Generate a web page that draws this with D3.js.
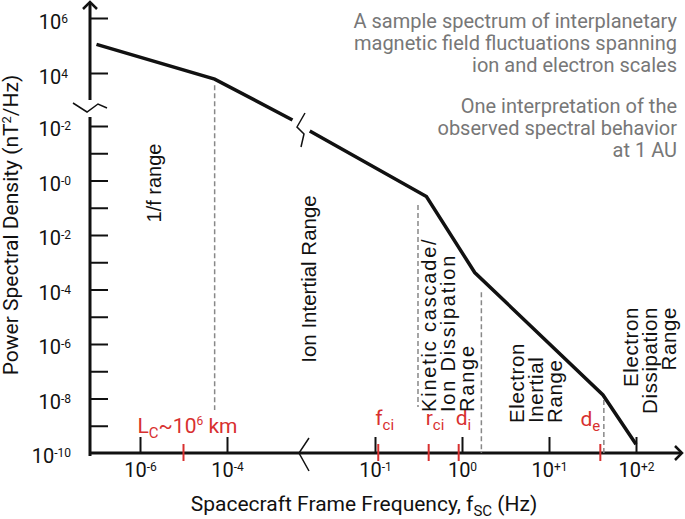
<!DOCTYPE html>
<html>
<head>
<meta charset="utf-8">
<script src="https://cdn.jsdelivr.net/npm/d3@7"></script>
<style>
  body { margin: 0; background: #fff; }
  text { font-family: Roboto, sans-serif; fill: #111; }
  .region { font-family: "Liberation Sans", Arial, sans-serif; font-size: 20px; }
  .red { fill: #d8302f; }
</style>
</head>
<body>
<div id="chart"></div>
<script>
// spectrum above the break (1/f range into ion inertial range)
const lowFreq = [1e-7, 5.2e-5, 3.2e-3];
const lowPsd = [1.1e5, 6.0e3, 195];
// spectrum below the break
const highFreq = [0.0178, 0.39, 1.4, 41.7, 100];
const highPsd = [66, 0.257, 4.2e-4, 1.35e-8, 2.1e-10];

// y ticks (labels copied as printed)
const yTopTicks = [1e6, 1e4];
const yTopLabels = ["6", "4"];
const yBotTicks = [1e2, 1e1, 1e0, 1e-1, 1e-2, 1e-3, 1e-4, 1e-5, 1e-6, 1e-7, 1e-8, 1e-9];
const yBotLabelTicks = [1e2, 1e0, 1e-2, 1e-4, 1e-6, 1e-8, 1e-10];
const yBotLabels = ["-2", "-0", "-2", "-4", "-6", "-8", "-10"];

// x ticks
const xLeftTicks = [1e-6, 1e-4];
const xLeftLabels = ["-6", "-4"];
const xRightTicks = [1e-1, 1e0, 1e1, 1e2];
const xRightLabels = ["-1", "0", "+1", "+2"];

// characteristic scales (red)
const charNames = ["f", "r", "d", "d"];
const charSubs = ["ci", "ci", "i", "e"];
const charFreqs = [0.109, 0.414, 0.916, 38.9];
const lcFreq = 1e-5;

// range boundaries (dashed)
const boundFreqs = [0.312, 1.67, 42.7];
const boundTop = [0.126, 7.9e-5, 8.9e-9];

const notes = [
  "A sample spectrum of interplanetary",
  "magnetic field fluctuations spanning",
  "ion and electron scales",
  "One interpretation of the",
  "observed spectral behavior",
  "at 1 AU"
];

const width = 685;
const height = 519;
const axisX = 90;
const axisY = 453;

const svg = d3.select("#chart").append("svg")
  .attr("width", width)
  .attr("height", height);

const xLeft = d3.scaleLog().domain([1e-6, 1e-4]).range([140, 227]);
const xRight = d3.scaleLog().domain([1e-1, 1e2]).range([375, 636]);
const yTop = d3.scaleLog().domain([1e4, 1e6]).range([73, 18]);
const yBot = d3.scaleLog().domain([1e-10, 1e2]).range([axisY, 126]);

function sup(sel, base, exp) {
  sel.text(base);
  sel.append("tspan").attr("dy", "-0.5em").attr("font-size", "12px").text(exp);
}

// ---- axes lines, breaks and arrows
const ink = "#111";
svg.append("line").attr("x1", axisX).attr("x2", axisX).attr("y1", 3).attr("y2", 100)
  .attr("stroke", ink).attr("stroke-width", 3);
svg.append("line").attr("x1", axisX).attr("x2", axisX).attr("y1", 117).attr("y2", axisY + 3)
  .attr("stroke", ink).attr("stroke-width", 3);
svg.append("line").attr("x1", axisX).attr("x2", 681).attr("y1", axisY).attr("y2", axisY)
  .attr("stroke", ink).attr("stroke-width", 3);
svg.append("path").attr("d", `M${axisX - 7},9 L${axisX},2 L${axisX + 7},9`)
  .attr("fill", "none").attr("stroke", ink).attr("stroke-width", 2.5);
svg.append("path").attr("d", `M675,${axisY - 7} L682,${axisY} L675,${axisY + 7}`)
  .attr("fill", "none").attr("stroke", ink).attr("stroke-width", 2.5);
// y break
svg.append("path").attr("d", `M${axisX - 17},103 L${axisX - 3},112 L${axisX + 8},104 L${axisX + 17},108`)
  .attr("fill", "none").attr("stroke", ink).attr("stroke-width", 1.5);
// x break
svg.append("path").attr("d", `M309,${axisY - 15} L299,${axisY} L309,${axisY + 18}`)
  .attr("fill", "none").attr("stroke", ink).attr("stroke-width", 1.5);

// ---- y axes
const gyTop = svg.append("g")
  .attr("transform", `translate(${axisX},0)`)
  .call(d3.axisLeft(yTop).tickValues(yTopTicks).tickSize(-18).tickPadding(22).tickFormat(""))
  .call(g => g.select(".domain").remove());
gyTop.attr("color", ink).selectAll(".tick line").attr("stroke-width", 2);
gyTop.selectAll(".tick text")
  .attr("dy", "0.5em").attr("font-size", "20px")
  .each(function (d, i) { sup(d3.select(this), "10", yTopLabels[i]); });

const gyBot = svg.append("g")
  .attr("transform", `translate(${axisX},0)`)
  .call(d3.axisLeft(yBot).tickValues(yBotTicks).tickSize(-18).tickFormat(""))
  .call(g => g.select(".domain").remove());
gyBot.attr("color", ink).selectAll(".tick line").attr("stroke-width", 2);
gyBot.selectAll(".tick text").remove();

svg.append("g").selectAll("text")
  .data(yBotLabelTicks)
  .join("text")
  .attr("x", axisX - 19)
  .attr("y", d => yBot(d))
  .attr("dy", "0.5em")
  .attr("text-anchor", "end")
  .attr("font-size", "20px")
  .each(function (d, i) { sup(d3.select(this), "10", yBotLabels[i]); });

// ---- x axes
function xAxis(scale, ticks, labels) {
  const g = svg.append("g")
    .attr("transform", `translate(0,${axisY})`)
    .call(d3.axisBottom(scale).tickValues(ticks).tickSize(-16).tickPadding(10).tickFormat(""))
    .call(g => g.select(".domain").remove());
  g.attr("color", ink).selectAll(".tick line").attr("stroke-width", 2);
  g.selectAll(".tick text")
    .attr("font-size", "20px")
    .each(function (d, i) { sup(d3.select(this), "10", labels[i]); });
}
xAxis(xLeft, xLeftTicks, xLeftLabels);
xAxis(xRight, xRightTicks, xRightLabels);

// ---- red characteristic scales
const red = "#d8302f";
svg.append("g").selectAll("line")
  .data(charFreqs.map(xRight).concat([xLeft(lcFreq)]))
  .join("line")
  .attr("x1", d => d).attr("x2", d => d)
  .attr("y1", axisY - 9).attr("y2", axisY + 8)
  .attr("stroke", red).attr("stroke-width", 2);

svg.append("g").selectAll("text")
  .data(charFreqs)
  .join("text")
  .attr("class", "red")
  .attr("x", (d, i) => i === 3 ? xRight(d) : xRight(d) - 3)
  .attr("y", (d, i) => i === 3 ? 426 : 425)
  .attr("text-anchor", (d, i) => i === 3 ? "end" : "start")
  .attr("font-size", "21px")
  .each(function (d, i) {
    const t = d3.select(this);
    t.text(charNames[i]);
    t.append("tspan").attr("dy", 5).attr("font-size", "15px").text(charSubs[i]);
  });

const lc = svg.append("text")
  .attr("class", "red")
  .attr("x", xLeft(lcFreq) + 4)
  .attr("y", 433)
  .attr("text-anchor", "middle")
  .attr("font-size", "21px")
  .text("L");
lc.append("tspan").attr("dy", 5).attr("font-size", "15px").text("C");
lc.append("tspan").attr("dy", -5).text("~10");
lc.append("tspan").attr("dy", -8).attr("font-size", "12px").text("6");
lc.append("tspan").attr("dy", 8).text(" km");

// ---- dashed range boundaries
const dashed = svg.append("g")
  .attr("stroke", "#888")
  .attr("stroke-width", 1.5)
  .attr("stroke-dasharray", "5,3");
dashed.append("line")
  .attr("x1", xLeft(lowFreq[1])).attr("x2", xLeft(lowFreq[1]))
  .attr("y1", yTop(3.6e3)).attr("y2", yBot(3.8e-9));
dashed.selectAll(".b")
  .data(boundFreqs)
  .join("line")
  .attr("x1", d => xRight(d)).attr("x2", d => xRight(d))
  .attr("y1", (d, i) => yBot(boundTop[i]))
  .attr("y2", (d, i) => i === 0 ? yBot(4.9e-9) : axisY);

// ---- spectrum
const lowLine = d3.line().x(d => xLeft(d[0])).y(d => yTop(d[1]));
const highLine = d3.line().x(d => xRight(d[0])).y(d => yBot(d[1]));
svg.append("path")
  .attr("d", lowLine(d3.zip(lowFreq, lowPsd)))
  .attr("fill", "none").attr("stroke", ink).attr("stroke-width", 3.5);
svg.append("path")
  .attr("d", highLine(d3.zip(highFreq, highPsd)))
  .attr("fill", "none").attr("stroke", ink).attr("stroke-width", 3.5);
// break in the spectrum line
svg.append("path").attr("d", "M305,113 L297,127 L304,134 L301,147")
  .attr("fill", "none").attr("stroke", ink).attr("stroke-width", 1.5);

// ---- axis titles
const yTitle = svg.append("text")
  .attr("transform", "translate(18,225) rotate(-90)")
  .attr("text-anchor", "middle")
  .attr("font-size", "21px")
  .text("Power Spectral Density (nT");
yTitle.append("tspan").attr("dy", -7).attr("font-size", "13px").text("2");
yTitle.append("tspan").attr("dy", 7).text("/Hz)");

const xTitle = svg.append("text")
  .attr("x", 364).attr("y", 511)
  .attr("text-anchor", "middle")
  .attr("font-size", "21px")
  .text("Spacecraft Frame Frequency, f");
xTitle.append("tspan").attr("dy", 5).attr("font-size", "15px").text("SC");
xTitle.append("tspan").attr("dy", -5).text(" (Hz)");

// ---- range labels
function region(x, y, anchor, lines, size, spacing) {
  const t = svg.append("text")
    .attr("class", "region")
    .attr("transform", `translate(${x},${y}) rotate(-90)`)
    .attr("text-anchor", anchor)
    .style("font-size", size + "px")
    .style("letter-spacing", spacing + "px");
  lines.forEach((s, i) => {
    t.append("tspan").attr("x", 0).attr("dy", i === 0 ? 0 : 19).text(s);
  });
}
region(161, 183, "middle", ["1/f range"], 20, 0);
region(316, 279, "middle", ["Ion Intertial Range"], 20.5, 0);
region(436, 412, "start", ["Kinetic cascade/", "Ion Dissipation", "Range"], 20, 1.8);
region(524, 423, "start", ["Electron", "Inertial", "Range"], 20.5, 0.6);
region(638, 307, "end", ["Electron", "Dissipation", "Range"], 20.5, 0.6);

// ---- notes
svg.append("g").selectAll("text")
  .data(notes)
  .join("text")
  .attr("x", 677)
  .attr("y", (d, i) => 28 + i * 22 + (i > 2 ? 19 : 0))
  .attr("text-anchor", "end")
  .attr("font-size", "20px")
  .style("fill", "#777")
  .text(d => d);
</script>
</body>
</html>
